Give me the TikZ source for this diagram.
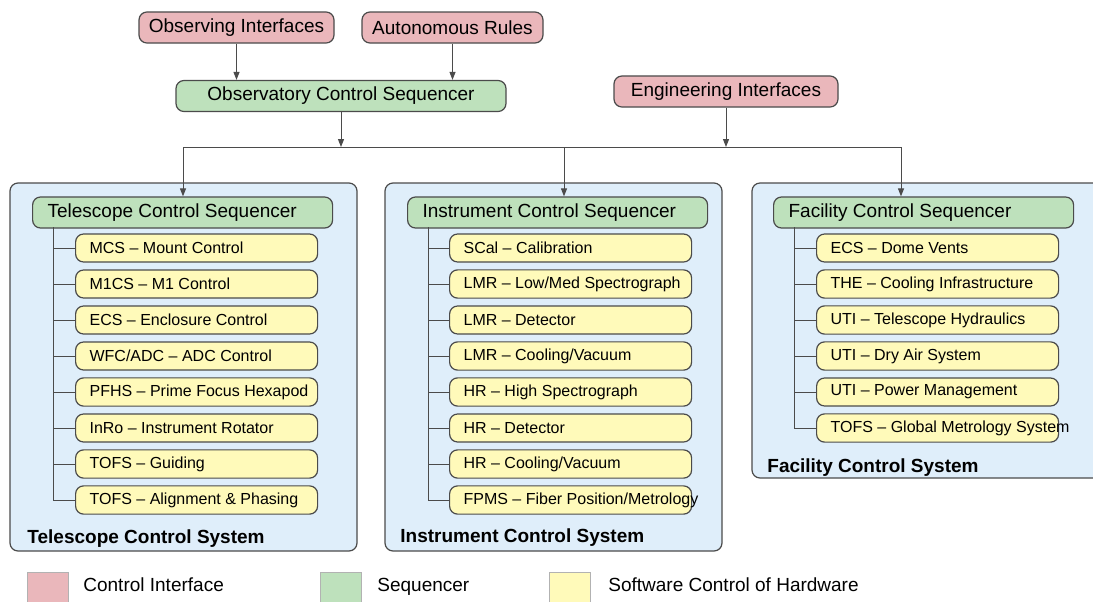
\documentclass[tikz,border=0pt]{standalone}
\usepackage{fontspec}
\setmainfont{Liberation Sans}
\usepackage{tikz}
\usetikzlibrary{arrows.meta, positioning, calc}
\definecolor{ifpink}{RGB}{234,183,187}
\definecolor{seqgreen}{RGB}{190,225,188}
\definecolor{hwyellow}{RGB}{255,250,186}
\definecolor{panelblue}{RGB}{223,238,250}
\definecolor{edge}{RGB}{75,75,75}
\tikzset{
  box/.style={rectangle, draw=edge, line width=0.6pt, rounded corners=4pt,
              font=\fontsize{9.5}{11}\selectfont},
  ctrl/.style={box, minimum height=15.5pt, inner xsep=0pt},
  seq/.style={box, fill=seqgreen, minimum height=14.5pt, inner xsep=7.5pt, anchor=west,
              execute at begin node={\hbox to 135pt\bgroup},
              execute at end node={\hss\egroup}},
  hw/.style={box, fill=hwyellow, minimum height=14pt, inner xsep=7pt, anchor=west,
             font=\fontsize{8}{9.5}\selectfont,
             execute at begin node={\hbox to 107pt\bgroup},
             execute at end node={\hss\egroup}},
  panel/.style={draw=edge, line width=0.6pt, fill=panelblue, rounded corners=4pt},
  sysname/.style={anchor=base west, inner sep=0pt,
                  font=\fontsize{9.5}{11}\selectfont\bfseries},
  arr/.style={-{Triangle[length=4pt,width=3pt]}, draw=edge, line width=0.5pt},
  link/.style={draw=edge, line width=0.5pt},
  key/.style={draw=gray!60, minimum width=20.5pt, minimum height=16pt,
              inner sep=0pt, anchor=north west},
  keytext/.style={anchor=base west, inner sep=0pt, font=\fontsize{9.5}{11}\selectfont},
}

\begin{document}
\begin{tikzpicture}[x=0.5pt, y=-0.5pt]
  \useasboundingbox (0,0) rectangle (1093,601);

  \draw[panel] (10,183) rectangle (357,551);
  \draw[panel] (385,183) rectangle (722,551);
  \draw[panel] (752,183) rectangle (1110,478);

  \node[ctrl, fill=ifpink, minimum width=97.5pt] (obs) at (236.5,27.5) {Observing Interfaces};
  \node[ctrl, fill=ifpink, minimum width=90.5pt] (auto) at (452.5,27.5) {Autonomous Rules};
  \node[ctrl, fill=seqgreen, minimum width=165pt] (ocs) at (341,96) {Observatory Control Sequencer};
  \node[ctrl, fill=ifpink, minimum width=112pt] (eng) at (726,91.5) {Engineering Interfaces};

  \node[seq] (tcs) at (32,212.5) {Telescope Control Sequencer};
  \node[seq] (ics) at (407,212.5) {Instrument Control Sequencer};
  \node[seq] (fcs) at (773,212.5) {Facility Control Sequencer};

  \foreach \lbl [count=\i] in {MCS -- Mount Control, M1CS -- M1 Control,
      ECS -- Enclosure Control, WFC/ADC -- ADC Control, PFHS -- Prime Focus Hexapod,
      InRo -- Instrument Rotator, TOFS -- Guiding, TOFS -- Alignment \& Phasing}
    \node[hw] (t\i) at (75,212+36*\i) {\lbl};
  \foreach \lbl [count=\i] in {SCal -- Calibration, LMR -- Low/Med Spectrograph,
      LMR -- Detector, LMR -- Cooling/Vacuum, HR -- High Spectrograph,
      HR -- Detector, HR -- Cooling/Vacuum, FPMS -- Fiber Position/Metrology}
    \node[hw] (i\i) at (449,212+36*\i) {\lbl};
  \foreach \lbl [count=\i] in {ECS -- Dome Vents, THE -- Cooling Infrastructure,
      UTI -- Telescope Hydraulics, UTI -- Dry Air System, UTI -- Power Management,
      TOFS -- Global Metrology System}
    \node[hw] (f\i) at (816,212+36*\i) {\lbl};

  \coordinate (ttrunk) at (53,227);
  \coordinate (itrunk) at (428,227);
  \coordinate (ftrunk) at (794,227);
  \foreach \i in {1,...,8} \draw[link] (ttrunk) |- (t\i.west);
  \foreach \i in {1,...,8} \draw[link] (itrunk) |- (i\i.west);
  \foreach \i in {1,...,6} \draw[link] (ftrunk) |- (f\i.west);

  \node[sysname] (tsys) at (27,543) {Telescope Control System};
  \node[sysname] (isys) at (400,542) {Instrument Control System};
  \node[sysname] (fsys) at (767,472) {Facility Control System};

  \coordinate (b1) at (183,147);
  \coordinate (b2) at (564,147);
  \coordinate (b3) at (901,147);
  \draw[arr] (obs) -- (obs |- ocs.north);
  \draw[arr] (auto) -- (auto |- ocs.north);
  \draw[arr] (ocs) -- (ocs |- b1);
  \draw[arr] (eng) -- (eng |- b1);
  \draw[link] (b1) -- (b3);
  \draw[arr] (b1) -- (b1 |- tcs.north);
  \draw[arr] (b2) -- (b2 |- ics.north);
  \draw[arr] (b3) -- (b3 |- fcs.north);

  \node[key, fill=ifpink] (kif) at (27,572) {};
  \node[key, fill=seqgreen] (kseq) at (320,572) {};
  \node[key, fill=hwyellow] (khw) at (549,572) {};
  \node[keytext] (tif) at (83,591) {Control Interface};
  \node[keytext] (tseq) at (377,591) {Sequencer};
  \node[keytext] (thw) at (608,591) {Software Control of Hardware};
\end{tikzpicture}
\end{document}
